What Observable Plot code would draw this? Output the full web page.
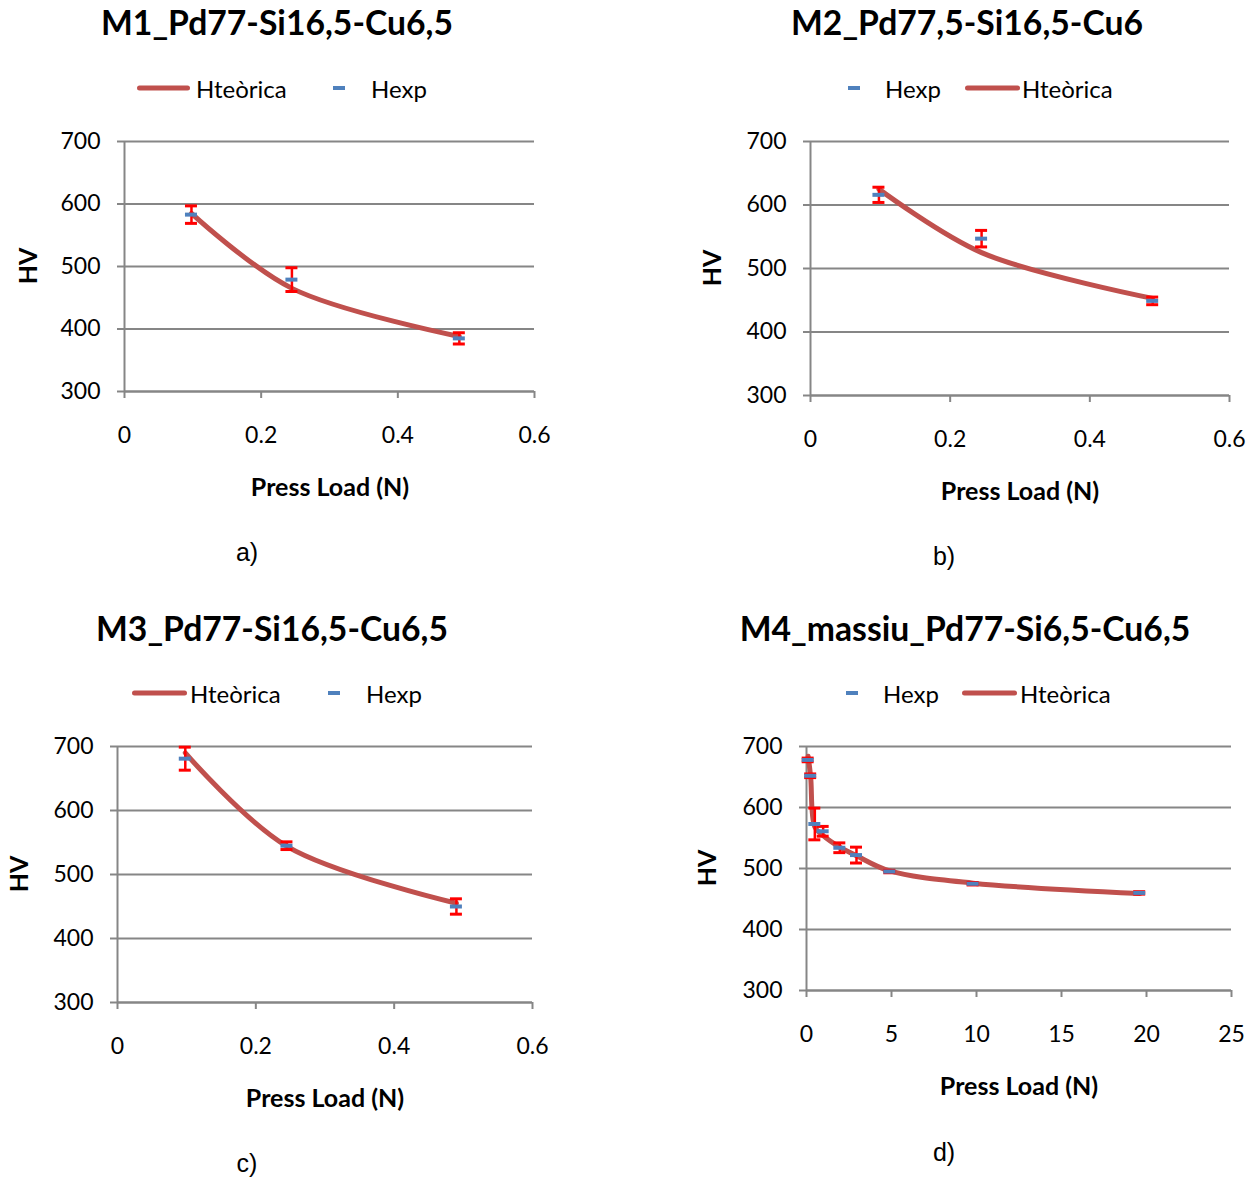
<!DOCTYPE html>
<html>
<head>
<meta charset="utf-8">
<script src="https://cdn.jsdelivr.net/npm/d3@7"></script>
<script src="https://cdn.jsdelivr.net/npm/@observablehq/plot@0.6"></script>
<style>
  html, body { margin: 0; padding: 0; background: #fff; }
  #root { position: relative; width: 1260px; height: 1180px; overflow: hidden; font-family: Lato, "Open Sans", sans-serif; color: #000; }
  .abs { position: absolute; white-space: nowrap; }
  .c { transform: translate(-50%, -50%); }
  .title { font-weight: bold; font-size: 33.7px; }
  .axlab { font-weight: bold; font-size: 25px; }
  .cap { font-family: "Liberation Sans", Arial, sans-serif; font-size: 25px; }
  .leg { font-size: 24px; transform: translateY(-50%); }
  .sw-red { position: absolute; height: 5px; background: #C0504D; border-radius: 3px; transform: translateY(-50%); }
  .sw-blue { position: absolute; height: 4px; background: #4F81BD; transform: translateY(-50%); }
</style>
</head>
<body>
<div id="root"></div>
<script>
// ---------- data ----------
const titles = ["M1_Pd77-Si16,5-Cu6,5", "M2_Pd77,5-Si16,5-Cu6", "M3_Pd77-Si16,5-Cu6,5", "M4_massiu_Pd77-Si6,5-Cu6,5"];
const captions = ["a)", "b)", "c)", "d)"];
const xLabel = "Press Load (N)";
const yLabel = "HV";
const seriesTheo = "Hteòrica";
const seriesExp = "Hexp";

const loadsA = [0.098, 0.245, 0.49];
const hexpA  = [583, 479, 385];
const errA   = [14, 19, 9];
const hteoA  = [585, 465, 388];

const loadsB = [0.098, 0.245, 0.49];
const hexpB  = [616, 547, 449];
const errB   = [12, 13, 6];
const hteoB  = [625, 525, 453];

const loadsC = [0.098, 0.245, 0.49];
const hexpC  = [681, 545, 450];
const errC   = [18, 6, 12];
const hteoC  = [690, 544, 455];

const loadsD = [0.098, 0.245, 0.49, 0.98, 1.96, 2.94, 4.9, 9.8, 19.6];
const hexpD  = [678, 652, 573, 561, 534, 522, 495, 475, 460];
const errD   = [3, 3, 26, 8, 8, 13, 2, 2, 2];
const hteoD  = [684, 650, 568, 554, 535, 521, 496, 476, 459];

const yTicks = [300, 400, 500, 600, 700];
const xTicksSmall = [0, 0.2, 0.4, 0.6];
const xTicksLarge = [0, 5, 10, 15, 20, 25];

// ---------- layout ----------
const RED = "#C0504D", BLUE = "#4F81BD", ERR = "#FF0000", GRID = "#868686";
const root = document.getElementById("root");

function addText(txt, cls, x, y) {
  const d = document.createElement("div");
  d.className = "abs " + cls;
  d.style.left = x + "px"; d.style.top = y + "px";
  d.textContent = txt;
  root.appendChild(d);
  return d;
}
function addSwatch(cls, x1, x2, y) {
  const d = document.createElement("div");
  d.className = cls;
  d.style.left = x1 + "px"; d.style.width = (x2 - x1) + "px"; d.style.top = y + "px";
  root.appendChild(d);
}

const panels = [
  {loads: loadsA, hexp: hexpA, err: errA, hteo: hteoA, xDomain: [0, 0.6], xTicks: xTicksSmall,
   left: 0, top: 120, mL: 124, mR: 96, mT: 21, mB: 69,
   title: [277, 22], hv: [27, 266], xl: [330, 486], cap: [247, 552],
   legY: 88, legend: [["red", 137, 190], ["t", 196, seriesTheo], ["blue", 333, 345], ["t", 371, seriesExp]]},
  {loads: loadsB, hexp: hexpB, err: errB, hteo: hteoB, xDomain: [0, 0.6], xTicks: xTicksSmall,
   left: 630, top: 120, mL: 180, mR: 31, mT: 21, mB: 65,
   title: [967, 22], hv: [711, 268], xl: [1020, 490], cap: [944, 556],
   legY: 88, legend: [["blue", 848, 860], ["t", 885, seriesExp], ["red", 965, 1020], ["t", 1022, seriesTheo]]},
  {loads: loadsC, hexp: hexpC, err: errC, hteo: hteoC, xDomain: [0, 0.6], xTicks: xTicksSmall,
   left: 0, top: 725, mL: 117, mR: 98, mT: 21, mB: 63,
   title: [272, 628], hv: [18, 874], xl: [325, 1097], cap: [247, 1163],
   legY: 693, legend: [["red", 132, 187], ["t", 190, seriesTheo], ["blue", 328, 340], ["t", 366, seriesExp]]},
  {loads: loadsD, hexp: hexpD, err: errD, hteo: hteoD, xDomain: [0, 25], xTicks: xTicksLarge,
   left: 630, top: 725, mL: 176, mR: 29, mT: 21, mB: 75,
   title: [965, 628], hv: [706, 868], xl: [1019, 1085], cap: [944, 1152],
   legY: 693, legend: [["blue", 846, 858], ["t", 883, seriesExp], ["red", 962, 1017], ["t", 1020, seriesTheo]]}
];

panels.forEach((p, i) => {
  const rows = p.loads.map((x, j) => ({x, exp: p.hexp[j], theo: p.hteo[j], lo: p.hexp[j] - p.err[j], hi: p.hexp[j] + p.err[j]}));
  const W = 630, H = 340;
  const chart = Plot.plot({
    width: W, height: H,
    marginLeft: p.mL, marginRight: p.mR, marginTop: p.mT, marginBottom: p.mB,
    style: {fontFamily: "Lato, 'Open Sans', sans-serif", color: "#000", background: "transparent", overflow: "visible"},
    x: {domain: p.xDomain},
    y: {domain: [300, 700]},
    marks: [
      Plot.gridY(yTicks, {stroke: GRID, strokeOpacity: 1, strokeWidth: 2}),
      Plot.ruleX([p.xDomain[0]], {stroke: GRID, strokeWidth: 2}),
      Plot.ruleY([300], {stroke: GRID, strokeWidth: 2}),
      Plot.axisY({ticks: yTicks, tickSize: 7, tickPadding: 17, stroke: GRID, strokeWidth: 2, fill: "#000", fontSize: 23, label: null, tickFormat: d => String(d)}),
      Plot.axisX({ticks: p.xTicks, tickSize: 7, tickPadding: 28, stroke: GRID, strokeWidth: 2, fill: "#000", fontSize: 23, label: null, tickFormat: d => String(d)}),
      Plot.line(rows, {x: "x", y: "theo", stroke: RED, strokeWidth: 5, curve: "catmull-rom"}),
      Plot.ruleX(rows, {x: "x", y1: "lo", y2: "hi", stroke: ERR, strokeWidth: 2.5}),
      Plot.ruleY(rows, {y: "lo", x1: "x", x2: "x", insetLeft: -6, insetRight: -6, stroke: ERR, strokeWidth: 3}),
      Plot.ruleY(rows, {y: "hi", x1: "x", x2: "x", insetLeft: -6, insetRight: -6, stroke: ERR, strokeWidth: 3}),
      Plot.ruleY(rows, {y: "exp", x1: "x", x2: "x", insetLeft: -6, insetRight: -6, stroke: BLUE, strokeWidth: 4})
    ]
  });
  chart.style.position = "absolute";
  chart.style.left = p.left + "px";
  chart.style.top = p.top + "px";
  root.appendChild(chart);

  addText(titles[i], "title c", p.title[0], p.title[1]);
  const hv = addText(yLabel, "axlab", p.hv[0], p.hv[1]);
  hv.style.transform = "translate(-50%, -50%) rotate(-90deg)";
  addText(xLabel, "axlab c", p.xl[0], p.xl[1]);
  addText(captions[i], "cap c", p.cap[0], p.cap[1]);
  p.legend.forEach(e => {
    if (e[0] === "red") addSwatch("sw-red", e[1], e[2], p.legY);
    else if (e[0] === "blue") addSwatch("sw-blue", e[1], e[2], p.legY);
    else addText(e[2], "leg", e[1], p.legY);
  });
});
</script>
</body>
</html>
